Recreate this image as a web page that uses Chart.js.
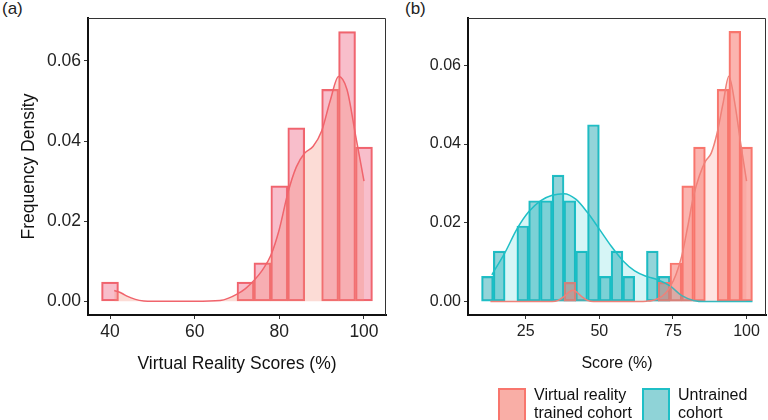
<!DOCTYPE html>
<html>
<head>
<meta charset="utf-8">
<script src="https://cdn.jsdelivr.net/npm/chart.js@4.4.1/dist/chart.umd.min.js"></script>
<style>
  body { margin: 0; background: #fff; width: 768px; height: 420px; position: relative; overflow: hidden;
         font-family: "Liberation Sans", Arial, sans-serif; }
  canvas { position: absolute; top: 0; }
  #chartA { left: 0; }
  #chartB { left: 380px; }
  .tag { position: absolute; top: -1px; font-size: 17px; color: #222; }
  .key { position: absolute; top: 388px; width: 24px; height: 30px; border: 2px solid; }
  .lab { position: absolute; top: 386px; font-size: 16px; line-height: 17.7px; color: #111; white-space: nowrap; }
</style>
</head>
<body>
<div class="tag" style="left:2px">(a)</div>
<div class="tag" style="left:405px">(b)</div>
<canvas id="chartA" width="390" height="380"></canvas>
<canvas id="chartB" width="388" height="380"></canvas>

<div class="key" style="left:498px; background:#f9aea6; border-color:#f8766d"></div>
<div class="lab" style="left:534px">Virtual reality<br>trained cohort</div>
<div class="key" style="left:642px; background:#8fd3d7; border-color:#1fbfc6"></div>
<div class="lab" style="left:678px">Untrained<br>cohort</div>

<script>
// histogram bins: left edges, width 4
const binW = 4;

// panel (a) - virtual reality scores
const binsA = [38, 42, 46, 50, 54, 58, 62, 66, 70, 74, 78, 82, 86, 90, 94, 98];
const densA = [0.0048, 0, 0, 0, 0, 0, 0, 0, 0.0048, 0.0096, 0.0288, 0.0433, 0, 0.0529, 0.0673, 0.0385];
const kdeAX = [41, 42, 43, 44, 46, 48, 50, 60, 66, 68, 70, 72, 74, 76, 78, 80, 82, 84, 86, 88, 90, 92, 94, 96, 98, 100];
const kdeAY = [0.0027, 0.0024, 0.0019, 0.0013, 0.0005, 0.0001, 0, 0, 0.0002, 0.0008, 0.0018, 0.0032, 0.0052, 0.0078,
               0.0115, 0.018, 0.027, 0.0335, 0.037, 0.0387, 0.0425, 0.050, 0.0561, 0.0528, 0.0415, 0.030];

// panel (b) - both cohorts
const binsB = [10, 14, 18, 22, 26, 30, 34, 38, 42, 46, 50, 54, 58, 62, 66, 70, 74, 78, 82, 86, 90, 94, 98];
const densVR = [0, 0, 0, 0, 0, 0, 0, 0.0049, 0, 0, 0, 0, 0, 0, 0, 0.0049, 0.0098, 0.0294, 0.0392, 0, 0.0539, 0.0686, 0.0392];
const densUT = [0.0064, 0.0128, 0, 0.0192, 0.0256, 0.0256, 0.0321, 0.0256, 0.0128, 0.0449, 0.0064, 0.0128, 0.0064, 0,
                0.0128, 0.0064, 0, 0, 0, 0, 0, 0, 0];
const kdeVRX = [13, 34, 36, 38, 40, 41, 42, 44, 46, 48, 64, 66, 68, 70, 72, 74, 76, 78, 80, 82, 84, 86, 88, 90, 92, 94, 96, 98, 100];
const kdeVRY = [0, 0, 0.0003, 0.0013, 0.0026, 0.0029, 0.0026, 0.0013, 0.0003, 0, 0, 0.0001, 0.0003, 0.0008, 0.0018,
                0.0037, 0.0068, 0.0116, 0.019, 0.0268, 0.032, 0.0356, 0.0377, 0.0428, 0.0503, 0.0572, 0.0504, 0.0402, 0.0306];
const kdeUTX = [13.5, 18, 22, 26, 30, 34, 38, 42, 46, 50, 54, 58, 62, 66, 70, 74, 78, 82, 86, 102];
const kdeUTY = [0.0068, 0.0125, 0.0184, 0.0228, 0.0256, 0.027, 0.0274, 0.026, 0.0226, 0.0184, 0.0141, 0.0104,
                0.0078, 0.0064, 0.0055, 0.004, 0.0015, 0.0003, 0, 0];

const xTicksA = [40, 60, 80, 100];
const xTicksB = [25, 50, 75, 100];
const yTicks = [0, 0.02, 0.04, 0.06];

const FONT = '"Liberation Sans", Arial, sans-serif';
const bars = (bins, dens) => bins.map((b, i) => ({ x: b + binW / 2, y: dens[i] }));
const pts = (xs, ys) => xs.map((x, i) => ({ x: x, y: ys[i] }));

// thin top/right border of the panel
const frame = {
  id: 'frame',
  afterDraw(chart) {
    const { ctx, chartArea: a } = chart;
    ctx.save();
    ctx.strokeStyle = '#333';
    ctx.lineWidth = 1;
    ctx.beginPath();
    ctx.moveTo(a.left, a.top + 0.5);
    ctx.lineTo(a.right - 0.5, a.top + 0.5);
    ctx.lineTo(a.right - 0.5, a.bottom);
    ctx.stroke();
    ctx.restore();
  }
};

function scales(xMin, xMax, xTicks, yMax, size, xTitle, yTitle, titlePadB) {
  const tickFont = { family: FONT, size: size };
  return {
    x: {
      type: 'linear', min: xMin, max: xMax, offset: false,
      afterBuildTicks: s => { s.ticks = xTicks.map(v => ({ value: v })); },
      afterFit: s => { s.height = 65; },
      grid: { drawOnChartArea: false, offset: false, tickLength: 4, color: '#333' },
      border: { color: '#111', width: 2 },
      ticks: { color: '#222', font: tickFont, padding: 3, maxRotation: 0 },
      title: { display: true, text: xTitle, color: '#111', font: tickFont, padding: { top: 0, bottom: titlePadB } }
    },
    y: {
      min: -0.0034, max: yMax,
      afterBuildTicks: s => { s.ticks = yTicks.map(v => ({ value: v })); },
      afterFit: s => { s.width = 88; },
      grid: { drawOnChartArea: false, tickLength: 4, color: '#333' },
      border: { color: '#111', width: 2 },
      ticks: { color: '#222', font: tickFont, padding: 3, callback: v => v.toFixed(2) },
      title: { display: !!yTitle, text: yTitle, color: '#111', font: tickFont, padding: { top: 19, bottom: 0 } }
    }
  };
}

const common = {
  responsive: false,
  animation: false,
  devicePixelRatio: 1,
  plugins: { legend: { display: false }, tooltip: { enabled: false } },
  datasets: { bar: { barPercentage: 1, categoryPercentage: 1, grouped: false, borderSkipped: false } }
};

new Chart(document.getElementById('chartA'), {
  type: 'bar',
  data: {
    datasets: [
      {
        type: 'line', data: pts(kdeAX, kdeAY), order: 1,
        borderColor: '#f0646c', borderWidth: 1.5, pointRadius: 0,
        cubicInterpolationMode: 'monotone', fill: 'origin', backgroundColor: 'rgba(245,140,120,0.3)'
      },
      {
        data: bars(binsA, densA), order: 2,
        backgroundColor: 'rgba(240,110,140,0.45)', borderColor: '#f0646c', borderWidth: 1.5
      }
    ]
  },
  options: Object.assign({}, common, {
    layout: { padding: { left: 0, top: 18, right: 4, bottom: 0 } },
    scales: scales(34.8, 105.2, xTicksA, 0.0707, 17.5, 'Virtual Reality Scores (%)', 'Frequency Density', 5)
  }),
  plugins: [frame]
});

new Chart(document.getElementById('chartB'), {
  type: 'bar',
  data: {
    datasets: [
      {
        type: 'line', data: pts(kdeVRX, kdeVRY), order: 1,
        borderColor: '#f08078', borderWidth: 1.5, pointRadius: 0,
        cubicInterpolationMode: 'monotone', fill: 'origin', backgroundColor: 'rgba(248,118,109,0.2)'
      },
      {
        type: 'line', data: pts(kdeUTX, kdeUTY), order: 2,
        borderColor: '#1fbfc6', borderWidth: 1.5, pointRadius: 0,
        cubicInterpolationMode: 'monotone', fill: 'origin', backgroundColor: 'rgba(0,191,196,0.16)'
      },
      {
        data: bars(binsB, densVR), order: 3,
        backgroundColor: 'rgba(248,118,109,0.55)', borderColor: '#f8766d', borderWidth: 1.5
      },
      {
        data: bars(binsB, densUT), order: 4,
        backgroundColor: 'rgba(40,170,180,0.5)', borderColor: '#1fbfc6', borderWidth: 1.5
      }
    ]
  },
  options: Object.assign({}, common, {
    layout: { padding: { left: 0, top: 18, right: 2, bottom: 0 } },
    scales: scales(5.4, 106.6, xTicksB, 0.0720, 16, 'Score (%)', '', 6.5)
  }),
  plugins: [frame]
});
</script>
</body>
</html>
